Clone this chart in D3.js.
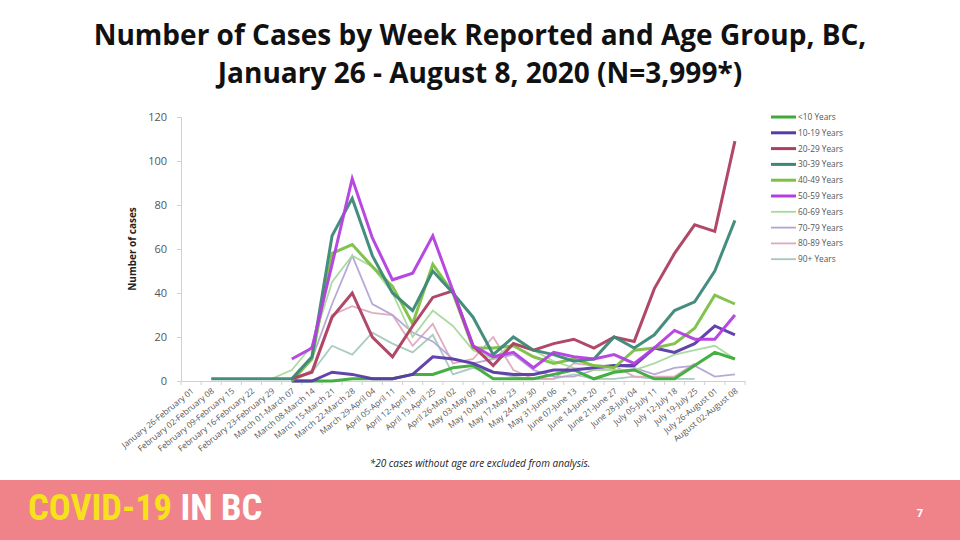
<!DOCTYPE html>
<html><head><meta charset="utf-8">
<script src="https://cdn.jsdelivr.net/npm/d3@7"></script>
<style>
html,body{margin:0;padding:0;background:#fff;}
svg{display:block;}
</style></head>
<body>
<svg id="chart" width="960" height="540"></svg>
<script>
const weeks = ["January 26-February 01","February 02-February 08","February 09-February 15","February 16-February 22","February 23-February 29","March 01-March 07","March 08-March 14","March 15-March 21","March 22-March 28","March 29-April 04","April 05-April 11","April 12-April 18","April 19-April 25","April 26-May 02","May 03-May 09","May 10-May 16","May 17-May 23","May 24-May 30","May 31-June 06","June 07-June 13","June 14-June 20","June 21-June 27","June 28-July 04","July 05-July 11","July 12-July 18","July 19-July 25","July 26-August 01","August 02-August 08"];
const yTicks = [0,20,40,60,80,100,120];
const N = null;
const ageUnder10 = [N,N,N,N,N,0,0,0,1,1,1,3,3,6,7,1,1,1,3,5,1,4,5,1,1,7,13,10];
const age10to19  = [N,N,N,N,N,0,0,4,3,1,1,3,11,10,8,4,3,3,5,5,6,7,7,15,13,17,25,21];
const age20to29  = [N,N,N,N,N,1,4,29,40,20,11,25,38,41,16,7,17,14,17,19,15,20,18,42,58,71,68,109];
const age30to39  = [N,1,1,1,1,1,11,66,83,57,40,32,50,40,29,12,20,14,12,9,10,20,15,21,32,36,50,73];
const age40to49  = [N,N,N,N,N,0,10,58,62,52,43,26,53,40,15,15,16,11,8,10,7,6,14,15,17,24,39,35];
const age50to59  = [N,N,N,N,N,10,15,53,92,65,46,49,66,41,16,11,13,6,13,11,10,12,8,15,23,19,19,30];
const age60to69  = [N,N,N,N,1,5,16,45,57,52,40,20,32,25,14,10,17,14,9,6,5,5,5,8,12,14,16,10];
const age70to79  = [N,N,N,N,N,1,10,35,57,35,30,22,18,10,8,10,12,5,2,2,5,7,6,3,6,7,2,3];
const age80to89  = [N,N,N,N,N,0,5,30,34,31,30,16,26,8,10,20,5,1,1,8,7,7,2,2,2,8,N,N];
const age90plus  = [N,N,N,N,N,0,4,16,12,22,17,13,21,3,6,4,2,1,1,3,1,1,2,1,1,1,N,N];
const seriesNames = ["<10 Years","10-19 Years","20-29 Years","30-39 Years","40-49 Years","50-59 Years","60-69 Years","70-79 Years","80-89 Years","90+ Years"];
const seriesValues = [ageUnder10,age10to19,age20to29,age30to39,age40to49,age50to59,age60to69,age70to79,age80to89,age90plus];
const seriesColors = ["#3daa3a","#5a3aa8","#ac3f5f","#3b8877","#7cc043","#b43ee0","#a6d99c","#b3a3d6","#dca9bd","#a5c8ba"];
const seriesWidths = [3,3,3,3,3,3,1.8,1.8,1.8,1.8];

const svg = d3.select("#chart");
// title
const title = svg.append("g").attr("font-family","'Open Sans', 'Noto Sans', sans-serif").attr("font-weight","700").attr("font-size","28px").attr("fill","#111").attr("text-anchor","middle");
title.append("text").attr("x",480).attr("y",45).text("Number of Cases by Week Reported and Age Group, BC,");
title.append("text").attr("x",480).attr("y",83).text("January 26 - August 8, 2020 (N=3,999*)");

const x = d3.scalePoint().domain(weeks).range([181,745]).padding(0.5);
const y = d3.scaleLinear().domain([0,120]).range([381,117]);

// y axis
const yAxis = svg.append("g").attr("transform","translate(181,0)")
  .call(d3.axisLeft(y).tickValues(yTicks).tickSize(4).tickPadding(10));
yAxis.select(".domain").attr("stroke","#d0d0d0");
yAxis.selectAll(".tick line").attr("stroke","#d0d0d0");
yAxis.selectAll(".tick text").attr("font-family","'Open Sans', sans-serif").attr("font-size","11px").attr("fill","#555");

// x axis
const xAxis = svg.append("g").attr("transform","translate(0,381)")
  .call(d3.axisBottom(x).tickSize(0).tickSizeOuter(0));
xAxis.select(".domain").attr("stroke","#d0d0d0");
xAxis.selectAll(".tick text")
  .attr("font-family","'Open Sans', sans-serif").attr("font-size","8.3px").attr("fill","#555")
  .attr("text-anchor","end").attr("dy",null).attr("y",0)
  .attr("transform","translate(3,11) rotate(-39)");
// x tick marks between categories
const step = x.step();
svg.append("g").selectAll("line").data(d3.range(weeks.length+1)).join("line")
  .attr("x1",i=>181+i*step).attr("x2",i=>181+i*step).attr("y1",381).attr("y2",385)
  .attr("stroke","#d0d0d0");

svg.append("text").attr("transform","translate(136,249) rotate(-90)")
  .attr("text-anchor","middle").attr("font-family","'Open Sans', sans-serif")
  .attr("font-weight","700").attr("font-size","10px").attr("fill","#222").text("Number of cases");

// lines
const line = d3.line().defined(d=>d.v!==null).x(d=>x(d.w)).y(d=>y(d.v));
const order = [9,8,7,6,0,1,4,2,3,5];
order.forEach(i=>{
  const data = weeks.map((w,j)=>({w:w,v:seriesValues[i][j]}));
  svg.append("path").datum(data).attr("d",line).attr("fill","none")
    .attr("stroke",seriesColors[i]).attr("stroke-width",seriesWidths[i])
    .attr("stroke-linejoin","miter").attr("opacity",0.95);
});

// legend
const lg = svg.append("g");
seriesNames.forEach((n,i)=>{
  const yy = 117 + i*15.8;
  lg.append("line").attr("x1",771).attr("x2",796).attr("y1",yy).attr("y2",yy)
    .attr("stroke",seriesColors[i]).attr("stroke-width",seriesWidths[i]);
  lg.append("text").attr("x",798).attr("y",yy+3).attr("font-family","'Open Sans', sans-serif")
    .attr("font-size","8.3px").attr("fill","#555").text(n);
});

// footnote
svg.append("text").attr("x",480).attr("y",467).attr("text-anchor","middle")
  .attr("font-family","'Open Sans', sans-serif").attr("font-style","italic").attr("font-size","10px")
  .attr("fill","#222").text("*20 cases without age are excluded from analysis.");

// footer band
svg.append("rect").attr("x",0).attr("y",480).attr("width",960).attr("height",60).attr("fill","#f0838a");
const ft = svg.append("text").attr("x",28).attr("y",520).attr("font-family","'Liberation Sans Narrow', 'Roboto Condensed', 'Liberation Sans', sans-serif")
  .attr("font-weight","700").attr("font-size","36.5px");
ft.append("tspan").attr("fill","#f6e11b").text("COVID-19 ");
ft.append("tspan").attr("fill","#ffffff").text("IN BC");
svg.append("text").attr("x",920).attr("y",517).attr("text-anchor","middle").attr("font-family","'Open Sans', sans-serif")
  .attr("font-weight","700").attr("font-size","11px").attr("fill","#fff").text("7");
</script>
</body></html>
